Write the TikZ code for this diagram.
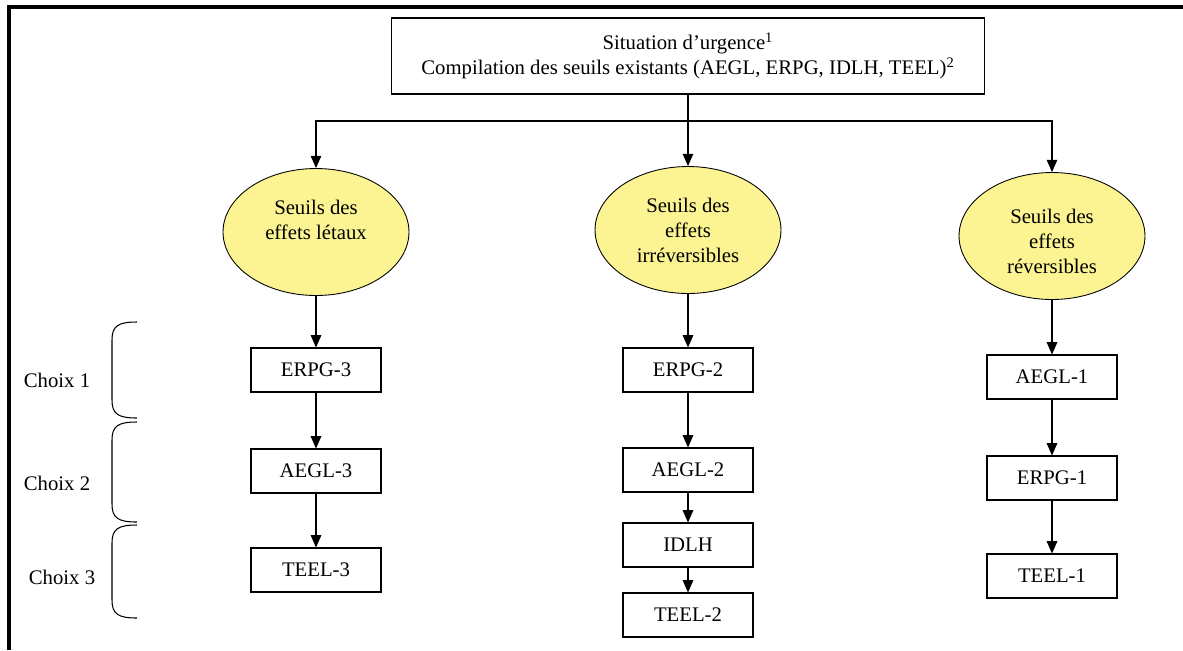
\documentclass[tikz,border=0pt]{standalone}
\usepackage{fontspec}
\setmainfont{Liberation Serif}
\usetikzlibrary{shapes.geometric,arrows.meta}
\definecolor{seuiljaune}{RGB}{252,244,146}

\begin{document}
\begin{tikzpicture}[x=0.02cm,y=-0.02cm,
	font=\fontsize{11.8}{14.2}\selectfont,
	boite/.style={draw,line width=0.6pt,fill=white,minimum width=2.6cm,minimum height=0.88cm,inner sep=0pt},
	seuil/.style={ellipse,draw,line width=0.5pt,fill=seuiljaune,minimum width=3.72cm,minimum height=2.54cm,align=center,inner sep=0pt},
	fleche/.style={-{Triangle[length=7pt,width=6pt]},line width=0.6pt},
	accolade/.style={line width=0.6pt}]
	\useasboundingbox (0,0) rectangle (1183,650);
	\draw [line width=1.8pt] (1183,7) -- (9,7) -- (9,650);

	\node [boite, minimum width=11.86cm, minimum height=1.52cm, align=center] (urgence) at (688,56) {Situation d'urgence\textsuperscript{1}\\Compilation des seuils existants (AEGL, ERPG, IDLH, TEEL)\textsuperscript{2}};
	\coordinate (branche) at (688,121);

	\node [seuil] (letaux) at (316,232) {Seuils des\\effets létaux\\~};
	\node [seuil] (irrev) at (688,230) {Seuils des\\effets\\irréversibles};
	\node [seuil] (rev) at (1052,236) {~\\Seuils des\\effets\\réversibles};

	\node [boite] (erpg3) at (316,370) {ERPG-3};
	\node [boite] (aegl3) at (316,471) {AEGL-3};
	\node [boite] (teel3) at (316,570) {TEEL-3};
	\node [boite] (erpg2) at (688,370) {ERPG-2};
	\node [boite] (aegl2) at (688,470) {AEGL-2};
	\node [boite] (idlh) at (688,545) {IDLH};
	\node [boite] (teel2) at (688,615) {TEEL-2};
	\node [boite] (aegl1) at (1052,377) {AEGL-1};
	\node [boite] (erpg1) at (1052,478) {ERPG-1};
	\node [boite] (teel1) at (1052,576) {TEEL-1};

	\node (choix1) at (57,380) {Choix 1};
	\node (choix2) at (57,483) {Choix 2};
	\node (choix3) at (62,577) {Choix 3};
	\foreach \haut/\bas in {322/418,422/522,525/618}
		\draw [accolade] (137,\haut) .. controls (118,\haut) and (112,\haut+4) .. (112,\haut+18) -- (112,\bas-18) .. controls (112,\bas-4) and (118,\bas) .. (137,\bas);

	\draw [line width=0.6pt] (urgence.south) -- (branche);
	\draw [fleche] (branche) -| (letaux.north);
	\draw [fleche] (branche) -- (irrev.north);
	\draw [fleche] (branche) -| (rev.north);
	\draw [fleche] (letaux.south) -- (erpg3.north);
	\draw [fleche] (erpg3.south) -- (aegl3.north);
	\draw [fleche] (aegl3.south) -- (teel3.north);
	\draw [fleche] (irrev.south) -- (erpg2.north);
	\draw [fleche] (erpg2.south) -- (aegl2.north);
	\draw [fleche] (aegl2.south) -- (idlh.north);
	\draw [fleche] (idlh.south) -- (teel2.north);
	\draw [fleche] (rev.south) -- (aegl1.north);
	\draw [fleche] (aegl1.south) -- (erpg1.north);
	\draw [fleche] (erpg1.south) -- (teel1.north);
\end{tikzpicture}
\end{document}
